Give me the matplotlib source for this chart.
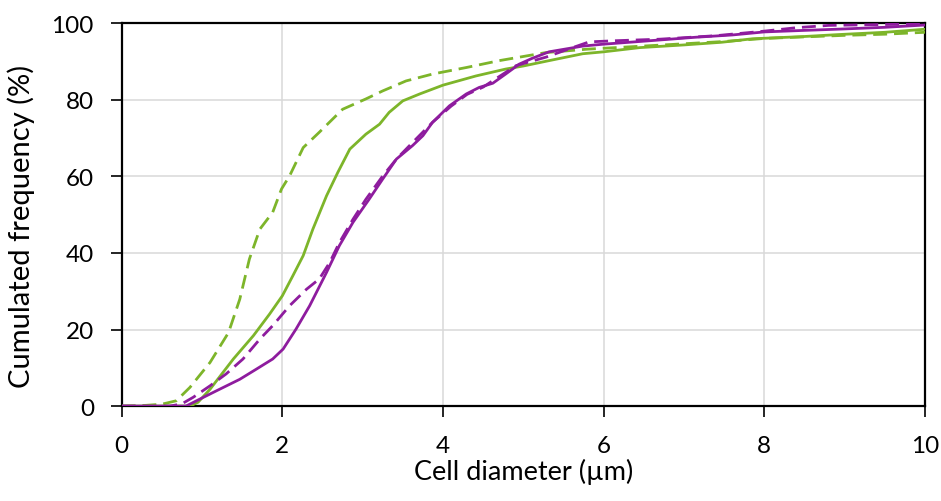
import matplotlib
matplotlib.use("Agg")
import matplotlib.pyplot as plt

# ---- data ----
gs_x = [0, 0.85, 0.95, 1.10, 1.39, 1.64, 1.84, 2.0, 2.13, 2.26, 2.38, 2.55, 2.69, 2.84, 3.04, 3.21, 3.33,
        3.50, 3.71, 4.0, 4.41, 4.78, 5.0, 5.32, 5.74, 6.0, 6.45, 7.0, 7.47, 7.85, 8.5, 8.92, 9.5, 10]
gs_y = [0, 0, 1.0, 4.4, 12.3, 18.4, 24.0, 28.8, 34.0, 39.3, 46.2, 54.9, 61.0, 67.1, 71.0, 73.6, 76.7,
        79.7, 81.5, 83.8, 86.2, 88.0, 88.8, 90.2, 92.0, 92.5, 93.6, 94.3, 95.0, 95.9, 96.5, 97.0, 97.6, 98.4]

gd_x = [0, 0.3, 0.5, 0.68, 0.85, 1.10, 1.33, 1.47, 1.59, 1.72, 1.88, 1.99, 2.09, 2.26, 2.46, 2.75, 3.04,
        3.25, 3.54, 3.87, 4.29, 4.70, 5.28, 5.8, 6.15, 7.0, 7.5, 8.0, 8.5, 9.0, 9.5, 10]
gd_y = [0, 0.2, 0.5, 1.4, 4.9, 11.4, 19.2, 27.9, 38.4, 46.2, 50.6, 56.7, 60.1, 67.5, 71.5, 77.5, 80.2,
        82.3, 84.9, 86.7, 88.4, 90.2, 92.3, 93.2, 93.6, 94.6, 95.2, 96.0, 96.4, 96.8, 97.1, 97.6]

ps_x = [0, 0.8, 0.97, 1.18, 1.47, 1.68, 1.88, 2.01, 2.17, 2.34, 2.55, 2.71, 2.88, 3.08, 3.25, 3.42, 3.62,
        3.75, 3.87, 4.08, 4.29, 4.45, 4.62, 4.78, 4.95, 5.11, 5.32, 5.74, 6.0, 6.45, 7.14, 7.6, 8.0, 8.5,
        8.9, 9.5, 10]
ps_y = [0, 0, 1.8, 4.0, 7.0, 9.7, 12.3, 14.9, 20.1, 26.2, 34.9, 41.9, 48.0, 54.0, 59.3, 64.5, 68.0,
        70.6, 74.1, 78.4, 81.5, 83.2, 84.3, 86.7, 89.3, 90.8, 92.5, 94.0, 94.5, 95.2, 96.3, 96.9, 97.7, 98.1,
        98.4, 98.9, 99.5]

pd_x = [0, 0.6, 0.75, 0.89, 1.10, 1.30, 1.51, 1.72, 1.88, 2.09, 2.30, 2.46, 2.59, 2.71, 2.88, 3.04, 3.25,
        3.42, 3.62, 3.87, 4.1, 4.3, 4.5, 4.66, 4.91, 5.28, 5.6, 5.82, 6.15, 6.7, 7.39, 8.0, 8.4, 8.8, 9.4, 10]
pd_y = [0, 0, 0.6, 2.3, 5.3, 8.4, 12.3, 17.5, 21.0, 26.2, 30.5, 33.2, 37.5, 42.7, 48.8, 54.0, 60.1,
        64.5, 68.8, 74.1, 78.3, 81.4, 83.3, 85.5, 88.9, 91.1, 93.5, 95.1, 95.4, 95.8, 96.7, 97.9, 98.8, 99.4,
        99.6, 99.8]

x_ticks = [0, 2, 4, 6, 8, 10]
y_ticks = [0, 20, 40, 60, 80, 100]
x_label = "Cell diameter (µm)"
y_label = "Cumulated frequency (%)"

GREEN = "#7db52a"
PURPLE = "#8e1c9e"

plt.rcParams["font.family"] = ["Lato", "DejaVu Sans"]

fig = plt.figure(figsize=(9.41, 5.02), dpi=100)
ax = fig.add_axes([0.1293, 0.189, 0.8537, 0.763])

lw = 2.0
ax.plot(gd_x, gd_y, color=GREEN, lw=lw, dashes=(5, 2.5), zorder=3)
ax.plot(gs_x, gs_y, color=GREEN, lw=lw, zorder=3)
ax.plot(pd_x, pd_y, color=PURPLE, lw=lw, dashes=(5, 2.5), zorder=4)
ax.plot(ps_x, ps_y, color=PURPLE, lw=lw, zorder=4)

ax.set_xlim(0, 10)
ax.set_ylim(0, 100)
ax.set_xticks(x_ticks)
ax.set_yticks(y_ticks)
ax.grid(True, color="#d9d9d9", lw=1.1)
ax.set_axisbelow(True)
for s in ax.spines.values():
    s.set_color("black")
    s.set_linewidth(1.6)
ax.tick_params(direction="out", length=8, width=1.2, color="black", labelsize=17.5)
ax.tick_params(axis="y", pad=12)
ax.tick_params(axis="x", pad=13)
ax.set_xlabel(x_label, fontsize=19.5, labelpad=1)
ax.set_ylabel(y_label, fontsize=21)
ax.yaxis.set_label_coords(-0.108, 0.473)

fig.savefig("out.png", dpi=100)
